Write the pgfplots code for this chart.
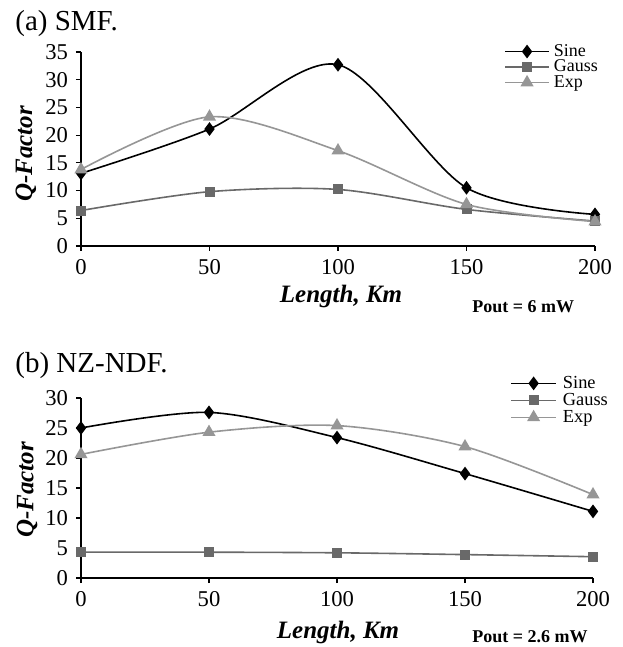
\documentclass[border=0pt]{standalone}
\usepackage{pgfplots}
\pgfplotsset{compat=1.18}
\usepackage{fontspec}
\setmainfont{Liberation Serif}
\definecolor{gaussc}{RGB}{105,105,105}
\definecolor{expc}{RGB}{150,150,150}
\pgfplotsset{
  qstyle/.style={
    scale only axis,
    axis x line*=bottom,
    axis y line*=left,
    xmin=0, xmax=200,
    xtick={0,50,100,150,200},
    tick align=outside,
    major tick length=2.5pt,
    tick style={black, line width=0.6pt},
    axis line style={line width=0.7pt},
    /pgf/number format/assume math mode=true,
    tick label style={font=\fontsize{11.3}{12}\selectfont},
    xticklabel style={yshift=-0.5pt},
    yticklabel style={xshift=-0.5pt},
    label style={font=\fontsize{12.5}{14}\selectfont\bfseries\itshape},
    clip=false,
    legend cell align=left,
    legend image code/.code={\draw[mark repeat=2,mark phase=2] plot coordinates {(0pt,0pt) (11pt,0pt) (22pt,0pt)};},
  },
  sine/.style={black, line width=0.8pt, smooth, mark=diamond*, mark size=2.8pt, mark options={solid, fill=black}},
  gauss/.style={gaussc, line width=0.8pt, smooth, mark=square*, mark size=2.1pt, mark options={solid, fill=gaussc}},
  expp/.style={expc, line width=0.8pt, smooth, mark=triangle*, mark size=3pt, mark options={solid, fill=expc}},
}
\begin{document}
\begin{tikzpicture}
\path[use as bounding box] (0,0) rectangle (311pt,323.5pt);
% ---------- (a) SMF ----------
\begin{axis}[qstyle,
  at={(40.5pt,200.5pt)}, anchor=south west,
  width=257pt, height=97pt,
  ymin=0, ymax=35, ytick={0,5,...,35},
  xlabel={Length, Km},
  xlabel style={at={(axis description cs:0.506,0)}, anchor=base, yshift=-28.5pt},
  ylabel={Q-Factor},
  ylabel style={at={(axis description cs:0,0.474)}, anchor=center, yshift=27.5pt},
  legend style={draw=none, fill=none, at={(axis description cs:0.811,1.065)}, anchor=north west,
    font=\fontsize{9}{9}\selectfont, row sep=0pt, column sep=2pt,
    nodes={inner sep=0pt, text height=6.2pt, text depth=1.55pt}},
]
\addplot[sine] coordinates {(0,13.1) (50,21.1) (100,32.7) (150,10.5) (200,5.7)};
\addlegendentry{Sine}
\addplot[gauss] coordinates {(0,6.4) (50,9.8) (100,10.2) (150,6.6) (200,4.5)};
\addlegendentry{Gauss}
\addplot[expp] coordinates {(0,13.8) (50,23.3) (100,17.2) (150,7.5) (200,4.4)};
\addlegendentry{Exp}
\end{axis}
\node[anchor=base west, inner sep=0pt, font=\fontsize{14.5}{16}\selectfont] at (7.5pt,308pt) {(a) SMF.};
\node[anchor=base west, inner sep=0pt, font=\fontsize{9}{10}\selectfont\bfseries] at (236pt,167pt) {Pout = 6 mW};
% ---------- (b) NZ-NDF ----------
\begin{axis}[qstyle,
  at={(40.5pt,34.5pt)}, anchor=south west,
  width=256pt, height=90pt,
  ymin=0, ymax=30, ytick={0,5,...,30},
  xlabel={Length, Km},
  xlabel style={at={(axis description cs:0.502,0)}, anchor=base, yshift=-30pt},
  ylabel={Q-Factor},
  ylabel style={at={(axis description cs:0,0.49)}, anchor=center, yshift=27pt},
  legend style={draw=none, fill=none, at={(axis description cs:0.826,1.153)}, anchor=north west,
    font=\fontsize{9.2}{9.2}\selectfont, row sep=0pt, column sep=3pt,
    nodes={inner sep=0pt, text height=7pt, text depth=1.5pt}},
  legend image code/.code={\draw[mark repeat=2,mark phase=2] plot coordinates {(0pt,0pt) (11.25pt,0pt) (22.5pt,0pt)};},
]
\addplot[sine] coordinates {(0,25.0) (50,27.6) (100,23.4) (150,17.4) (200,11.1)};
\addlegendentry{Sine}
\addplot[gauss] coordinates {(0,4.3) (50,4.3) (100,4.2) (150,3.9) (200,3.55)};
\addlegendentry{Gauss}
\addplot[expp] coordinates {(0,20.6) (50,24.3) (100,25.4) (150,21.9) (200,13.9)};
\addlegendentry{Exp}
\end{axis}
\node[anchor=base west, inner sep=0pt, font=\fontsize{14.5}{16}\selectfont] at (7.5pt,137.2pt) {(b) NZ-NDF.};
\node[anchor=base west, inner sep=0pt, font=\fontsize{9}{10}\selectfont\bfseries] at (236pt,2pt) {Pout = 2.6 mW};
\end{tikzpicture}
\end{document}
